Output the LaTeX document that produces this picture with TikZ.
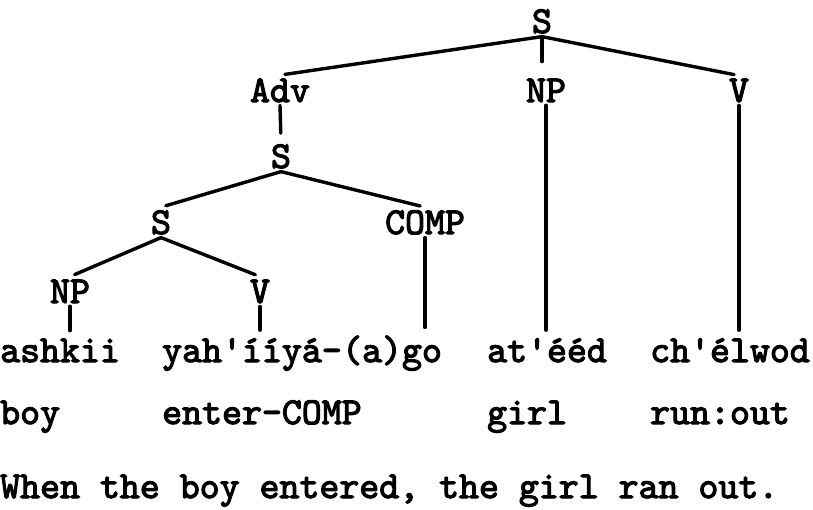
\documentclass[tikz,border=0pt]{standalone}
\usepackage{fontspec}
\usepackage{tikz}
\usetikzlibrary{positioning}
\newfontfamily\typerfam{lmmono10-regular.otf}[FakeBold=3]
\newcommand\treefont{\fontsize{38}{40}\selectfont\typerfam}
\tikzset{
  tcat/.style={font=\treefont, inner xsep=1pt, inner ysep=3pt, anchor=base},
  tword/.style={font=\treefont, inner sep=0pt, anchor=base west},
  tbranch/.style={line width=3.4pt, line cap=round, black, shorten >=5pt},
  tleaf/.style={tbranch, shorten >=8pt},
}

\begin{document}
\begin{tikzpicture}[x=1pt, y=-1pt]
  \useasboundingbox (0,0) rectangle (813,509);
  % categories
  \node[tcat] (sroot) at (542,33) {S};
  \node[tcat] (adv) at (280,102) {Adv};
  \node[tcat] (npsub) at (546,102) {NP};
  \node[tcat] (vmain) at (739,102) {V};
  \node[tcat] (sadv) at (281,168) {S};
  \node[tcat] (sinner) at (161,234) {S};
  \node[tcat] (comp) at (425,234) {COMP};
  \node[tcat] (npobj) at (70,303) {NP};
  \node[tcat] (vinner) at (260,303) {V};
  % words
  \node[tword] (ashkii) at (0,362) {ashkii};
  \node[tword] (stem) at (162,362) {yah'ííyá-};
  \node[tword] (sfx) at (stem.base east) {(a)go};
  \node[tword] (ateed) at (487,362) {at'ééd};
  \node[tword] (chelwod) at (650,362) {ch'élwod};
  % glosses
  \node[tword, below=62pt of ashkii.base west, anchor=base west] (gboy) {boy};
  \node[tword, below=62pt of stem.base west, anchor=base west] (genter) {enter-COMP};
  \node[tword, below=62pt of ateed.base west, anchor=base west] (ggirl) {girl};
  \node[tword, below=62pt of chelwod.base west, anchor=base west] (grun) {run:out};
  \node[tword, below=74pt of gboy.base west, anchor=base west] (trans) {When the boy entered, the girl ran out.};
  % branches
  \draw[tbranch] (sroot.south) -- (adv.north);
  \draw[tbranch, shorten >=14pt] (sroot.south) -- (sroot.south |- npsub.north);
  \draw[tbranch] (sroot.south) -- (vmain.north);
  \draw[tbranch, shorten >=8pt] (adv.south) -- (sadv.north);
  \draw[tbranch] (sadv.south) -- (sinner.north);
  \draw[tbranch] (sadv.south) -- (comp.north);
  \draw[tbranch] (sinner.south) -- (npobj.north);
  \draw[tbranch] (sinner.south) -- (vinner.north);
  \draw[tleaf] (npobj.south) -- (npobj.south |- ashkii.north);
  \draw[tleaf] (vinner.south) -- (vinner.south |- stem.north);
  \draw[tleaf] (comp.south) -- (comp.south |- sfx.north);
  \draw[tleaf] (npsub.south) -- (npsub.south |- ateed.north);
  \draw[tleaf] (vmain.south) -- (vmain.south |- chelwod.north);
\end{tikzpicture}
\end{document}
